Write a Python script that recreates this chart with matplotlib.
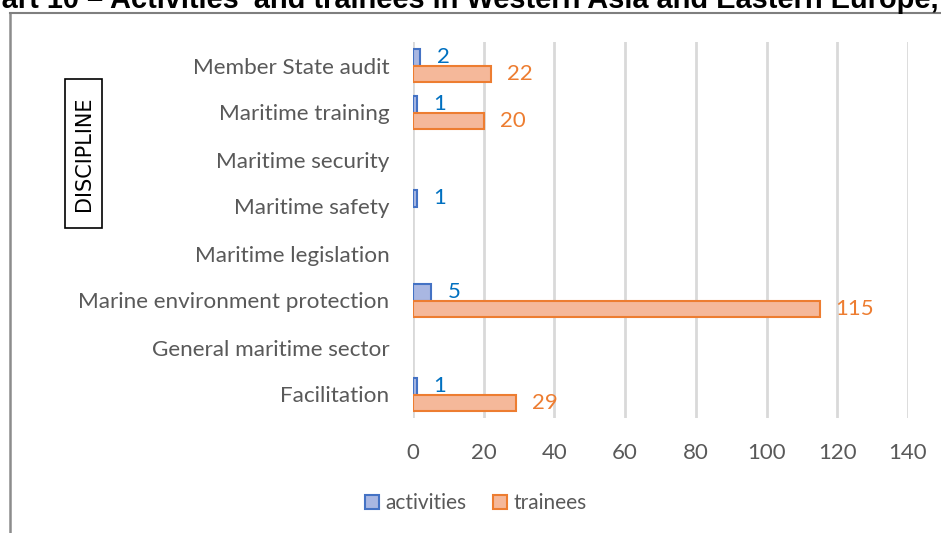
import matplotlib
matplotlib.use("Agg")
import matplotlib.pyplot as plt
import numpy as np
from matplotlib.patches import Rectangle
from matplotlib.lines import Line2D

categories = ["Facilitation", "General maritime sector", "Marine environment protection",
              "Maritime legislation", "Maritime safety", "Maritime security",
              "Maritime training", "Member State audit"]
activities = [1, None, 5, None, 1, None, 1, 2]
trainees = [29, None, 115, None, None, None, 20, 22]
xticks = [0, 20, 40, 60, 80, 100, 120, 140]
title = "Chart 10 – Activities' and trainees in Western Asia and Eastern Europe,"

W, H = 941, 533
fig = plt.figure(figsize=(W / 100, H / 100), dpi=100)
FONT = "Lato"
FS = 16.2
GRAY = "#595959"
BLUE_E, BLUE_F, BLUE_T = "#4472C4", "#A9B7E2", "#0070C0"
OR_E, OR_F, OR_T = "#ED7D31", "#F5B89A", "#ED7D31"

# outer frame
fig.add_artist(Line2D([10 / W, 10 / W], [0, 1 - 13 / H], transform=fig.transFigure,
                      color="#8c8c8c", lw=1.8))
fig.add_artist(Line2D([10 / W, 1], [1 - 13 / H, 1 - 13 / H], transform=fig.transFigure,
                      color="#7f7f7f", lw=1.5))

# title (clipped at top, as in the reference)
fig.text(939 / W, 1 - 7.5 / H, title, ha="right", va="baseline", fontsize=20.9,
         fontweight="bold", family="Liberation Sans", color="black")

ax = fig.add_axes([413 / W, 1 - 418 / H, 495 / W, 376 / H])
y = np.arange(len(categories))
h = 0.35
for i, v in enumerate(activities):
    if v is not None:
        ax.barh(y[i] + h / 2, v, height=h, color=BLUE_F, edgecolor=BLUE_E, lw=1.5, zorder=3)
        ax.annotate(str(v), (v, y[i] + h / 2), xytext=(17, 0), textcoords="offset pixels",
                    ha="left", va="center", color=BLUE_T, fontsize=16, family=FONT)
for i, v in enumerate(trainees):
    if v is not None:
        ax.barh(y[i] - h / 2, v, height=h, color=OR_F, edgecolor=OR_E, lw=1.5, zorder=3)
        ax.annotate(str(v), (v, y[i] - h / 2), xytext=(16, 0), textcoords="offset pixels",
                    ha="left", va="center", color=OR_T, fontsize=16, family=FONT)

ax.set_xlim(0, 140)
ax.set_ylim(-0.5, len(categories) - 0.5)
ax.set_xticks(xticks)
ax.set_xticklabels([str(t) for t in xticks], fontsize=16, color=GRAY, family=FONT)
ax.set_yticks(y)
ax.set_yticklabels(categories, fontsize=FS, color=GRAY, family=FONT)
ax.tick_params(length=0, pad=18, axis="x")
ax.tick_params(length=0, pad=17, axis="y")
for s in ax.spines.values():
    s.set_visible(False)
ax.grid(axis="x", color="#D9D9D9", lw=2, zorder=0)
ax.set_axisbelow(True)

# DISCIPLINE box
fig.add_artist(Rectangle((65 / W, 1 - 228 / H), 37 / W, 149 / H, transform=fig.transFigure,
                         fill=False, edgecolor="black", lw=1.2))
fig.text(84 / W, 1 - 153.5 / H, "DISCIPLINE", rotation=90, ha="center", va="center",
         fontsize=15, family="DejaVu Sans", color="black")

# legend
handles = [Rectangle((0, 0), 1, 1, facecolor=BLUE_F, edgecolor=BLUE_E, lw=1.5),
           Rectangle((0, 0), 1, 1, facecolor=OR_F, edgecolor=OR_E, lw=1.5)]
fig.legend(handles, ["activities", "trainees"], loc="center", bbox_to_anchor=(476 / W, 1 - 503 / H),
           ncol=2, frameon=False, handlelength=0.65, handleheight=0.65, handletextpad=0.3,
           columnspacing=1.3, prop={"family": FONT, "size": 15}, labelcolor=GRAY)

fig.savefig("out.png", dpi=100)
